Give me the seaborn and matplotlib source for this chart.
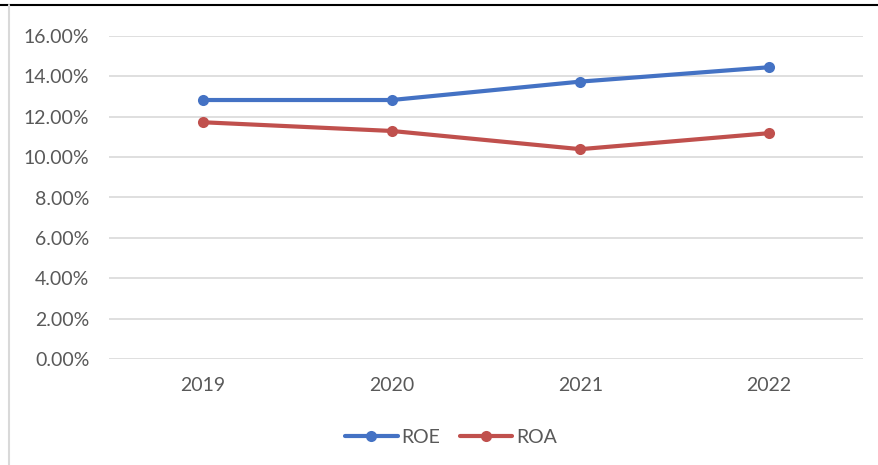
import matplotlib
matplotlib.use("Agg")
import matplotlib.pyplot as plt
from matplotlib.lines import Line2D
from matplotlib.ticker import FuncFormatter
import seaborn as sns
import pandas as pd

years = ["2019", "2020", "2021", "2022"]
roe = [0.1282, 0.1282, 0.1373, 0.1444]
roa = [0.1172, 0.1129, 0.1039, 0.1118]
series_names = ["ROE", "ROA"]
colors = {"ROE": "#4472C4", "ROA": "#C0504D"}
y_ticks = [0.0, 0.02, 0.04, 0.06, 0.08, 0.10, 0.12, 0.14, 0.16]

df = pd.DataFrame({
    "Year": years * 2,
    "Value": roe + roa,
    "Series": [series_names[0]] * len(years) + [series_names[1]] * len(years),
})

sns.set_theme(style="white")
plt.rcParams["font.family"] = ["Lato", "DejaVu Sans"]

fig = plt.figure(figsize=(8.79, 4.65), dpi=100)
fig.patch.set_facecolor("white")
ax = fig.add_axes([108.7 / 879, 105.7 / 465, 754.6 / 879, 323.6 / 465])

sns.lineplot(data=df, x="Year", y="Value", hue="Series", palette=colors,
             marker="o", markersize=8, linewidth=3, markeredgewidth=0,
             ax=ax, legend=False, sort=False)

ax.set_xlim(-0.5, 3.5)
ax.set_ylim(0, 0.16)
ax.set_yticks(y_ticks)
ax.yaxis.set_major_formatter(FuncFormatter(lambda v, p: f"{v * 100:.2f}%"))
ax.grid(axis="y", color="#D9D9D9", linewidth=1.2)
ax.set_axisbelow(True)
for s in ax.spines.values():
    s.set_visible(False)
ax.set_xlabel("")
ax.set_ylabel("")
ax.tick_params(axis="both", length=0, labelsize=14, colors="#595959")
ax.tick_params(axis="y", pad=14)
ax.tick_params(axis="x", pad=13)

handles = [Line2D([0], [0], color=colors[n], linewidth=3, marker="o",
                  markersize=8, markeredgewidth=0) for n in series_names]
fig.legend(handles, series_names, loc="center", bbox_to_anchor=(451 / 879, 1 - 437 / 465),
           ncol=2, frameon=False, fontsize=14, labelcolor="#595959",
           handlelength=2.7, handletextpad=0.2, columnspacing=1.0)

# frame lines of the surrounding screenshot
fig.add_artist(Line2D([0, 1], [1 - 5.5 / 465, 1 - 5.5 / 465], color="black", linewidth=1.5,
                      transform=fig.transFigure))
fig.add_artist(Line2D([8.5 / 879, 8.5 / 879], [0, 1 - 5.5 / 465], color="#D9D9D9", linewidth=1.5,
                      transform=fig.transFigure))

fig.savefig("out.png", dpi=100, facecolor="white")
